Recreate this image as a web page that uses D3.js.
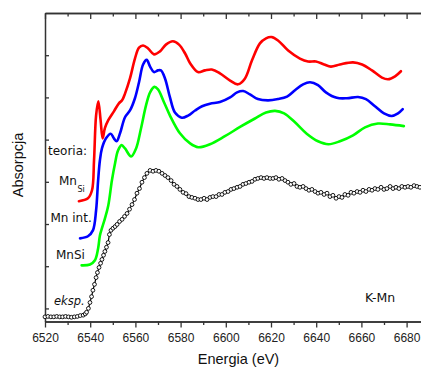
<!DOCTYPE html>
<html><head><meta charset="utf-8">
<script src="https://cdn.jsdelivr.net/npm/d3@7"></script>
<style>
html,body{margin:0;padding:0;background:#fff;}
svg{display:block;}
</style>
</head><body>
<svg id="chart" width="421" height="368"></svg>
<script>
// ---- data ----
const xTicksMajor = [6520, 6540, 6560, 6580, 6600, 6620, 6640, 6660, 6680];
const xTicksMinor = [6530, 6550, 6570, 6590, 6610, 6630, 6650, 6670];
const yTicks = [1, 2, 3, 4, 5, 6, 7];

const mnSiSubE = [6535.0,6539.0,6540.8,6541.7,6542.6,6543.6,6544.6,6545.5,6546.5,6548.0,6550.5,6552.7,6554.1,6555.4,6557.6,6559.8,6561.6,6563.4,6565.6,6568.2,6570.9,6573.5,6576.6,6579.3,6582.0,6584.2,6587.7,6590.8,6593.8,6597.4,6601.9,6605.4,6608.5,6611.6,6615.1,6617.8,6620.2,6623.1,6627.6,6632.8,6636.4,6639.9,6643.5,6646.5,6650.5,6656.3,6660.3,6664.7,6669.1,6671.8,6674.9,6677.5];
const mnSiSubA = [3.54,3.61,3.80,4.51,5.57,5.91,5.46,5.03,5.27,5.46,5.67,5.86,5.93,6.09,6.45,6.92,7.18,7.23,7.16,7.02,7.09,7.25,7.33,7.25,7.04,6.81,6.60,6.64,6.66,6.57,6.40,6.31,6.45,6.88,7.28,7.40,7.43,7.35,7.11,6.92,6.85,6.85,6.78,6.73,6.78,6.83,6.78,6.64,6.47,6.43,6.50,6.62];

const mnIntE = [6535.5,6539.0,6541.2,6542.6,6543.5,6544.3,6545.2,6547.0,6549.1,6550.5,6551.7,6553.2,6555.4,6557.6,6559.8,6561.6,6563.4,6565.0,6566.5,6568.2,6570.0,6571.3,6573.1,6575.3,6577.5,6580.5,6583.3,6586.4,6589.5,6593.0,6597.4,6601.9,6605.0,6607.7,6610.7,6614.2,6618.7,6623.1,6627.1,6630.6,6634.2,6637.3,6640.8,6644.3,6649.1,6653.6,6658.5,6662.0,6666.0,6670.0,6673.4,6676.2,6678.3];
const mnIntA = [2.66,2.71,2.85,3.32,4.03,4.51,4.79,5.03,5.14,5.03,4.96,5.15,5.53,5.69,5.98,6.36,6.78,6.89,6.73,6.60,6.64,6.64,6.45,6.00,5.64,5.52,5.57,5.69,5.79,5.85,5.89,6.00,6.12,6.15,6.07,5.96,5.93,5.96,6.02,6.17,6.31,6.36,6.29,6.12,5.99,5.98,6.01,5.96,5.79,5.62,5.56,5.62,5.72];

const mnSiE = [6536.2,6539.9,6542.1,6543.5,6544.3,6545.2,6546.5,6548.0,6549.6,6551.0,6552.3,6553.9,6555.4,6558.1,6560.3,6562.5,6564.7,6566.5,6568.4,6570.0,6572.7,6575.3,6579.7,6584.2,6587.8,6593.0,6599.6,6606.3,6612.9,6617.8,6621.8,6625.8,6630.6,6635.8,6640.8,6645.4,6650.5,6656.3,6661.6,6667.3,6672.7,6678.8];
const mnSiA = [2.02,2.04,2.14,2.42,2.73,2.90,3.13,3.44,4.03,4.44,4.74,4.87,4.79,4.60,4.79,5.27,5.81,6.12,6.25,6.19,5.88,5.57,5.15,4.91,4.82,4.89,5.08,5.30,5.50,5.64,5.68,5.62,5.41,5.14,4.96,4.89,4.96,5.10,5.29,5.38,5.36,5.32];

const expE = [6520,6521.3,6522.6,6523.9,6525.2,6526.5,6527.8,6529.1,6530.4,6531.7,6533.0,6534.3,6535.6,6536.9,6537.8,6538.4,6539.2,6539.9,6540.6,6541.2,6541.9,6542.6,6543.2,6543.9,6544.6,6545.2,6545.9,6546.5,6547.2,6547.9,6548.5,6549.2,6550.1,6551.0,6551.9,6553.0,6554.1,6555.2,6556.3,6557.4,6558.5,6559.6,6560.7,6561.8,6562.9,6564.0,6565.1,6566.5,6567.8,6569.1,6570.4,6571.8,6573.1,6574.4,6575.8,6577.1,6578.4,6579.7,6581.1,6582.4,6583.7,6585.0,6586.4,6587.7,6589.0,6590.4,6591.7,6593.0,6594.3,6595.7,6597.0,6598.3,6599.6,6601.0,6602.3,6603.6,6605.0,6606.3,6607.6,6608.9,6610.3,6611.6,6612.9,6614.2,6615.6,6616.9,6618.2,6619.6,6620.9,6622.2,6623.5,6624.9,6626.2,6627.5,6628.8,6630.2,6631.5,6632.8,6634.2,6635.5,6636.8,6638.1,6639.5,6640.8,6642.1,6643.5,6644.8,6646.1,6647.4,6648.8,6650.1,6651.4,6652.7,6654.1,6655.4,6656.7,6658.1,6659.4,6660.7,6662.0,6663.4,6664.7,6666.0,6667.3,6668.7,6670.0,6671.3,6672.7,6674.0,6675.3,6676.6,6677.9,6679.3,6680.6,6681.9,6683.3,6684.6,6685.9];
const expA = [0.80,0.81,0.80,0.80,0.81,0.80,0.80,0.81,0.80,0.79,0.80,0.81,0.83,0.84,0.87,0.91,1.00,1.14,1.28,1.43,1.57,1.73,1.85,1.97,2.07,2.16,2.26,2.35,2.45,2.56,2.75,2.85,2.90,2.94,2.99,3.06,3.11,3.18,3.25,3.35,3.46,3.58,3.73,3.84,3.99,4.10,4.20,4.27,4.25,4.27,4.25,4.20,4.15,4.10,4.03,3.94,3.89,3.82,3.75,3.72,3.65,3.63,3.61,3.58,3.58,3.61,3.58,3.63,3.65,3.65,3.70,3.70,3.75,3.77,3.82,3.84,3.87,3.89,3.94,3.96,3.99,4.01,4.06,4.08,4.10,4.08,4.10,4.08,4.08,4.10,4.06,4.08,4.03,3.99,3.94,3.96,3.89,3.87,3.89,3.84,3.80,3.82,3.77,3.73,3.75,3.70,3.73,3.65,3.68,3.61,3.65,3.63,3.70,3.68,3.75,3.73,3.77,3.75,3.80,3.77,3.82,3.80,3.84,3.82,3.87,3.82,3.84,3.89,3.84,3.87,3.84,3.89,3.87,3.89,3.87,3.91,3.89,3.87];

// ---- layout ----
const svg = d3.select('#chart');
const x = d3.scaleLinear().domain([6520, 6690]).range([45, 429.2]);
const y = d3.scaleLinear().domain([0.69, 8]).range([321.5, 13]);
const axisColor = '#333';

const gAx = svg.append('g');

// bottom axis (major, labelled)
const bMaj = gAx.append('g').attr('transform', 'translate(0,321.5)')
  .call(d3.axisBottom(x).tickValues(xTicksMajor).tickSizeInner(6).tickSizeOuter(0).tickPadding(6).tickFormat(d3.format('d')));
bMaj.selectAll('text').attr('font-family', 'Liberation Sans, Arial, sans-serif').attr('font-size', 12).attr('fill', '#222');
const bMin = gAx.append('g').attr('transform', 'translate(0,321.5)')
  .call(d3.axisBottom(x).tickValues(xTicksMinor).tickSizeInner(3.5).tickSizeOuter(0).tickFormat(''));

// top axis (ticks pointing inward)
const tMaj = gAx.append('g').attr('transform', 'translate(0,13)')
  .call(d3.axisTop(x).tickValues(xTicksMajor).tickSizeInner(-6).tickSizeOuter(0).tickFormat(''));
const tMin = gAx.append('g').attr('transform', 'translate(0,13)')
  .call(d3.axisTop(x).tickValues(xTicksMinor).tickSizeInner(-3.5).tickSizeOuter(0).tickFormat(''));

// left axis
const lAx = gAx.append('g').attr('transform', 'translate(45,0)')
  .call(d3.axisLeft(y).tickValues(yTicks).tickSizeInner(-4).tickSizeOuter(0).tickFormat(''));

gAx.selectAll('.domain').attr('stroke', axisColor).attr('stroke-width', 1.5);
gAx.selectAll('.tick line').attr('stroke', axisColor).attr('stroke-width', 1.3);

// ---- series ----
const line = d3.line().x(d => x(d[0])).y(d => y(d[1])).curve(d3.curveCatmullRom.alpha(0.5));
const zip = (a, b) => a.map((v, i) => [v, b[i]]);

const theory = [
  {E: mnSiE, A: mnSiA, color: '#00ff00'},
  {E: mnIntE, A: mnIntA, color: '#0000ff'},
  {E: mnSiSubE, A: mnSiSubA, color: '#ff0000'}
];
theory.forEach(s => {
  svg.append('path').datum(zip(s.E, s.A)).attr('d', line)
    .attr('fill', 'none').attr('stroke', s.color).attr('stroke-width', 2.6)
    .attr('stroke-linejoin', 'round').attr('stroke-linecap', 'round');
});

const expData = zip(expE, expA);
svg.append('path').datum(expData)
  .attr('d', d3.line().x(d => x(d[0])).y(d => y(d[1])))
  .attr('fill', 'none').attr('stroke', '#000').attr('stroke-width', 1.2);
svg.append('g').selectAll('circle').data(expData).join('circle')
  .attr('cx', d => x(d[0])).attr('cy', d => y(d[1])).attr('r', 1.9)
  .attr('fill', '#fff').attr('stroke', '#000').attr('stroke-width', 0.9);

// ---- labels ----
const lf = 'DejaVu Sans, sans-serif';
const addText = (t, xx, yy, opts = {}) => svg.append('text').text(t)
  .attr('x', xx).attr('y', yy)
  .attr('font-family', opts.family || lf).attr('font-size', opts.size || 12)
  .attr('font-style', opts.style || 'normal').attr('fill', opts.fill || '#111')
  .attr('text-anchor', opts.anchor || 'start');

addText('teoria:', 48, 155);
addText('Mn', 59, 185);
addText('Si', 77.5, 192, {size: 8});
addText('Mn int.', 50.5, 222);
addText('MnSi', 56, 259);
addText('eksp.', 54, 305, {style: 'italic', size: 11.5});
addText('K-Mn', 365, 302, {size: 12.5});

addText('Energia (eV)', 238.5, 364, {family: 'Liberation Sans, Arial, sans-serif', size: 14.5, anchor: 'middle'});
svg.append('text').text('Absorpcja')
  .attr('transform', 'translate(23,165) rotate(-90)')
  .attr('text-anchor', 'middle')
  .attr('font-family', 'Liberation Sans, Arial, sans-serif').attr('font-size', 14.5).attr('fill', '#111');
</script>
</body></html>
